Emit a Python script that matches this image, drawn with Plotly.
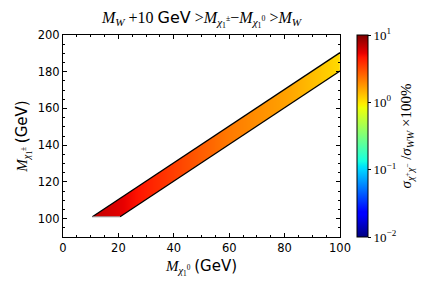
import numpy as np
import plotly.graph_objects as go

# ---- data ----
x_nodes = [10, 20, 30, 40, 50, 60, 70, 80, 90, 100]          # M_chi1^0 (GeV)
ratio_pct = [6.8, 5.6, 4.3, 3.4, 2.7, 2.2, 1.9, 1.65, 1.35, 1.08]  # sigma ratio x100%
M_W = 80.4                 # GeV
DELTA = 10.0               # band width (GeV)
M_CHARGINO_MIN = 101.0     # lower chargino mass bound (GeV)
x_range = [0, 100]
y_range = [90, 200]
x_ticks = [0, 20, 40, 60, 80, 100]
y_ticks = [100, 120, 140, 160, 180, 200]
cbar_tickvals = [-2, -1, 0, 1]
cbar_ticktext = ["10<sup>−2</sup>", "10<sup>−1</sup>", "10<sup>0</sup>", "10<sup>1</sup>"]

# ---- matplotlib 'jet' colormap as a plotly colorscale ----
def _seg(points, t):
    xs = [p[0] for p in points]
    ys = [p[1] for p in points]
    return float(np.interp(t, xs, ys))

R = [(0, 0), (0.35, 0), (0.66, 1), (0.89, 1), (1, 0.5)]
G = [(0, 0), (0.125, 0), (0.375, 1), (0.64, 1), (0.91, 0), (1, 0)]
B = [(0, 0.5), (0.11, 1), (0.34, 1), (0.65, 0), (1, 0)]
stops = sorted(set([0, 0.11, 0.125, 0.34, 0.35, 0.375, 0.64, 0.65, 0.66, 0.89, 0.91, 1]))
jet = [[s, "rgb(%d,%d,%d)" % (round(255 * _seg(R, s)), round(255 * _seg(G, s)), round(255 * _seg(B, s)))]
       for s in stops]

logz = [float(np.log10(v)) for v in ratio_pct]

SERIF = "Liberation Serif"
SANS = "DejaVu Sans"

# page offset (default body margin) compensation
OFF = 8
PL, PR, PT, PB = 63, 340, 35, 237   # plot area in window pixels
W, H = 436, 291

fig = go.Figure()

fig.add_trace(go.Heatmap(
    x=x_nodes, y=y_range, z=[logz, logz],
    zsmooth="best", colorscale=jet, zmin=-2, zmax=1,
    hoverinfo="skip",
    colorbar=dict(
        x=(357 - PL) / (PR - PL), xanchor="left", xref="paper", xpad=0,
        y=0.5, yanchor="middle", len=1, lenmode="fraction", ypad=0,
        thickness=11, outlinewidth=1, outlinecolor="black",
        tickvals=cbar_tickvals, ticktext=cbar_ticktext,
        ticks="outside", ticklen=3, tickcolor="black",
        tickfont=dict(family=SERIF, size=13, color="black"),
        title=dict(
            text="<i>σ</i><sub><i>χ</i><sup>+</sup><i>χ</i><sup>−</sup></sub> /<i>σ</i><sub><i>WW</i></sub> ×100%",
            side="right", font=dict(family=SERIF, size=15, color="black")),
    ),
))

# mask outside the allowed band  M_W < M_chi+- - M_chi0 < M_W + DELTA
x_lo_upper = M_CHARGINO_MIN - (M_W + DELTA)   # corner on the upper line
x_lo_lower = M_CHARGINO_MIN - M_W             # corner on the lower line
xa, xb = x_range[0] - 5, x_range[1] + 5
ya, yb = y_range[0] - 5, y_range[1] + 5
fig.add_trace(go.Scatter(
    x=[xa, x_lo_upper, x_lo_upper, xb, xb, xa, xa],
    y=[ya, ya, M_CHARGINO_MIN, xb + M_W + DELTA, yb, yb, ya],
    fill="toself", fillcolor="white", mode="lines", line=dict(width=0),
    hoverinfo="skip", showlegend=False))
fig.add_trace(go.Scatter(
    x=[xa, xb, xb, x_lo_lower, xa, xa],
    y=[ya, ya, xb + M_W, M_CHARGINO_MIN, M_CHARGINO_MIN, ya],
    fill="toself", fillcolor="white", mode="lines", line=dict(width=0),
    hoverinfo="skip", showlegend=False))

# band boundaries
fig.add_trace(go.Scatter(
    x=[x_lo_upper, x_range[1]], y=[M_CHARGINO_MIN, x_range[1] + M_W + DELTA],
    mode="lines", line=dict(color="black", width=1.3), hoverinfo="skip", showlegend=False))
fig.add_trace(go.Scatter(
    x=[x_lo_lower, x_range[1]], y=[M_CHARGINO_MIN, x_range[1] + M_W],
    mode="lines", line=dict(color="black", width=1.3), hoverinfo="skip", showlegend=False))
fig.add_trace(go.Scatter(
    x=[x_lo_upper, x_lo_lower], y=[M_CHARGINO_MIN, M_CHARGINO_MIN],
    mode="lines", line=dict(color="#999999", width=1), hoverinfo="skip", showlegend=False))

axis_common = dict(
    showline=True, linecolor="black", linewidth=1, mirror="allticks",
    ticks="inside", ticklen=4, tickwidth=1, tickcolor="black",
    showgrid=False, zeroline=False, automargin=False,
    tickfont=dict(family=SANS, size=11.5, color="black"),
    minor=dict(ticks="inside", ticklen=2, tickwidth=1, tickcolor="black", dtick=5, showgrid=False),
)

fig.update_xaxes(range=x_range, tickvals=x_ticks, **axis_common,
                 title=dict(text="<i>M</i><sub><i>χ</i><sub>1</sub><sup>0</sup></sub> <span style='font-family:DejaVu Sans'>(GeV)</span>",
                            font=dict(family=SERIF, size=15, color="black"), standoff=6))
fig.update_yaxes(range=y_range, tickvals=y_ticks, **axis_common,
                 title=dict(text="<i>M</i><sub><i>χ</i><sub>1</sub><sup>±</sup></sub> <span style='font-family:DejaVu Sans'>(GeV)</span>",
                            font=dict(family=SERIF, size=15, color="black"), standoff=6))

fig.update_layout(
    width=W, height=H,
    margin=dict(l=PL - OFF, r=W - (PR - OFF), t=PT - OFF, b=H - (PB - OFF), autoexpand=False),
    paper_bgcolor="white", plot_bgcolor="white",
    title=dict(
        text="<i>M</i><sub><i>W</i></sub> +10 <span style='font-family:DejaVu Sans'>GeV</span> &gt;<i>M</i><sub><i>χ</i><sub>1</sub><sup>±</sup></sub>−<i>M</i><sub><i>χ</i><sub>1</sub><sup>0</sup></sub> &gt;<i>M</i><sub><i>W</i></sub>",
        x=((PL + PR) / 2 - OFF) / W, xanchor="center", y=1 - (17 - OFF) / H, yanchor="middle",
        font=dict(family=SERIF, size=16, color="black")),
    showlegend=False,
)

fig.write_html("out.html")
